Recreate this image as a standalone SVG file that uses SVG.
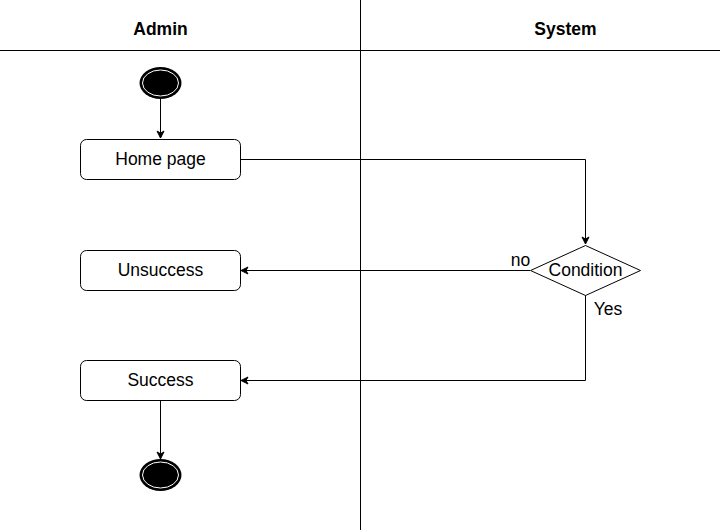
<svg xmlns="http://www.w3.org/2000/svg" width="722" height="532" viewBox="0 0 722 532">
<style>
text{font-family:"Liberation Sans",Arial,sans-serif;font-size:17.5px;fill:#000}
.h{font-weight:bold}
.box{fill:#fff;stroke:#000;stroke-width:1}
.edge{fill:none;stroke:#000;stroke-width:1}
.lane{stroke:#000;stroke-width:1}
</style>
<defs>
<marker id="arr" markerWidth="10" markerHeight="10" refX="8" refY="5" orient="auto" markerUnits="userSpaceOnUse">
<path d="M1,1.5 L8,5 L1,8.5 L3,5 Z" fill="#000" stroke="#000"/>
</marker>
</defs>
<rect width="722" height="532" fill="#fff"/>
<g id="lanes">
<line class="lane" x1="360.5" y1="0" x2="360.5" y2="530"/>
<line class="lane" x1="0" y1="50.5" x2="720" y2="50.5"/>
<text class="h" x="160.5" y="35" text-anchor="middle">Admin</text>
<text class="h" x="565.5" y="35" text-anchor="middle">System</text>
</g>
<g id="connectors">
<path class="edge" d="M160.5,99 V138" marker-end="url(#arr)"/>
<path class="edge" d="M240,159.5 H585.5 V244" marker-end="url(#arr)"/>
<path class="edge" d="M530,270.5 H241" marker-end="url(#arr)"/>
<path class="edge" d="M585.5,295 V380.5 H241" marker-end="url(#arr)"/>
<path class="edge" d="M160.5,400 V459" marker-end="url(#arr)"/>
<text x="520.5" y="266" text-anchor="middle">no</text>
<text x="608" y="315" text-anchor="middle">Yes</text>
</g>
<g id="start">
<ellipse cx="160.5" cy="83" rx="21" ry="16" fill="#000"/>
<ellipse cx="160.5" cy="83" rx="18" ry="13" fill="#000" stroke="#fff" stroke-width="1"/>
</g>
<g id="home">
<rect class="box" x="80.5" y="139.5" width="160" height="40" rx="6"/>
<text x="160.5" y="164.5" text-anchor="middle">Home page</text>
</g>
<g id="unsuccess">
<rect class="box" x="80.5" y="250.5" width="160" height="40" rx="6"/>
<text x="160.5" y="275.5" text-anchor="middle">Unsuccess</text>
</g>
<g id="success">
<rect class="box" x="80.5" y="360.5" width="160" height="40" rx="6"/>
<text x="160.5" y="385.5" text-anchor="middle">Success</text>
</g>
<g id="condition">
<path class="box" d="M585.5,245.5 L640.5,270.5 L585.5,295.5 L530.5,270.5 Z"/>
<text x="585.5" y="275.5" text-anchor="middle">Condition</text>
</g>
<g id="end">
<ellipse cx="160.5" cy="475" rx="21" ry="16" fill="#000"/>
<ellipse cx="160.5" cy="475" rx="18" ry="13" fill="#000" stroke="#fff" stroke-width="1"/>
</g>
</svg>
